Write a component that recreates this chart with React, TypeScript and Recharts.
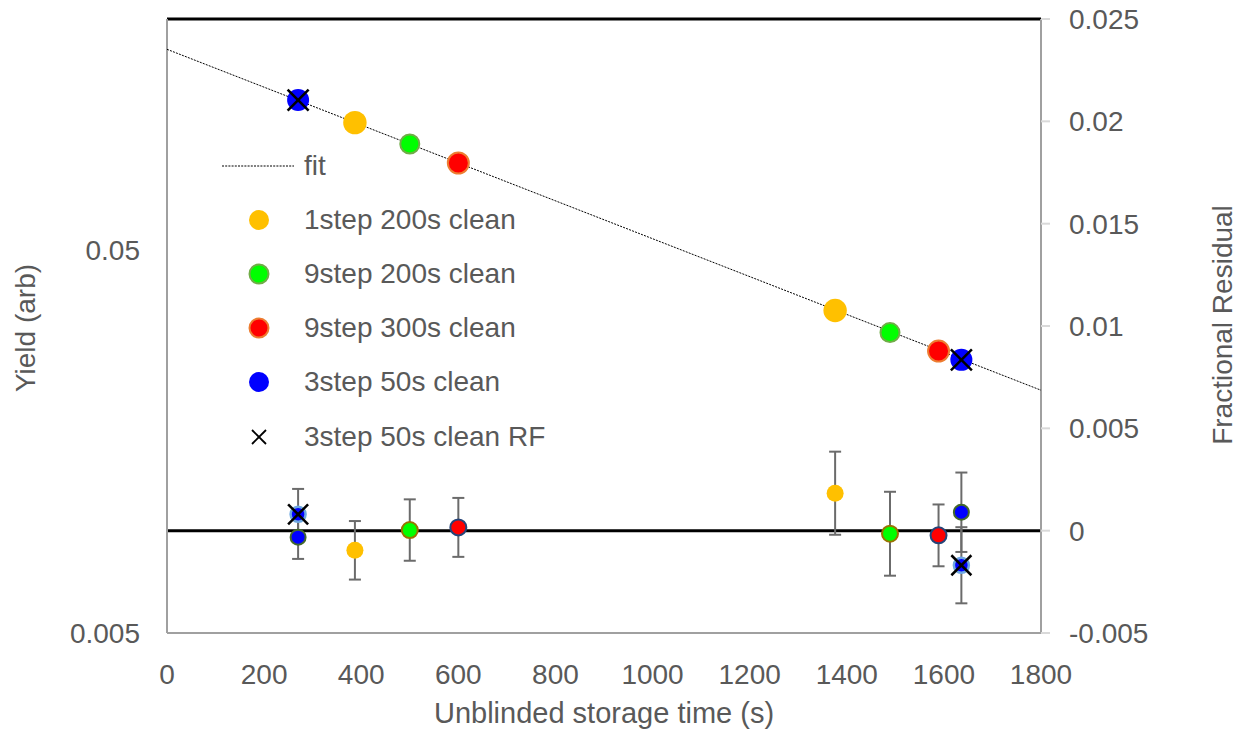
import React from 'react';
import { ComposedChart, Scatter, XAxis, YAxis, ErrorBar, ReferenceLine, Legend, Label } from 'recharts';

// ---- data ----
const fitTime = [0, 1800];
const fitYield = [0.1667, 0.0215];

const time1step200 = [387, 1376];
const yield1step200 = [0.1073, 0.0347];
const resid1step200 = [-0.00096, 0.00183];
const err1step200 = [0.00143, 0.00203];

const time9step200 = [500, 1489];
const yield9step200 = [0.0944, 0.0304];
const resid9step200 = [0.00003, -0.00015];
const err9step200 = [0.0015, 0.00205];

const time9step300 = [600, 1589];
const yield9step300 = [0.0842, 0.0272];
const resid9step300 = [0.00016, -0.00023];
const err9step300 = [0.00144, 0.00151];

const time3step50 = [270, 1636];
const yield3step50 = [0.1229, 0.0258];
const resid3step50 = [-0.00032, 0.0009];
const err3step50 = [0.00106, 0.00194];

const time3step50RF = [270, 1636];
const yield3step50RF = [0.1229, 0.0258];
const resid3step50RF = [0.0008, -0.00169];
const err3step50RF = [0.00124, 0.00186];

const xTicks = [0, 200, 400, 600, 800, 1000, 1200, 1400, 1600, 1800];
const leftTicks = [0.005, 0.05];
const rightTicks = [-0.005, 0, 0.005, 0.01, 0.015, 0.02, 0.025];

const seriesNames = ['fit', '1step 200s clean', '9step 200s clean', '9step 300s clean', '3step 50s clean', '3step 50s clean RF'];

const pts = (t: number[], v: number[], e?: number[]) =>
  t.map((x, i) => ({ x, y: v[i], err: e ? e[i] : undefined }));

const FONT = '"Liberation Sans", Arial, sans-serif';
const TXT = '#595959';

const dot = (r: number, fill: string, stroke?: string, sw = 0) => (p: any) =>
  p.cx == null ? <g /> : (
    <circle cx={p.cx} cy={p.cy} r={r} fill={fill} stroke={stroke || 'none'} strokeWidth={sw} />
  );

const cross = (h: number, sw: number, under?: { r: number; fill: string; stroke: string; sw: number }) => (p: any) =>
  p.cx == null ? <g /> : (
    <g>
      {under && <circle cx={p.cx} cy={p.cy} r={under.r} fill={under.fill} stroke={under.stroke} strokeWidth={under.sw} />}
      <line x1={p.cx - h} y1={p.cy - h} x2={p.cx + h} y2={p.cy + h} stroke="#000" strokeWidth={sw} />
      <line x1={p.cx - h} y1={p.cy + h} x2={p.cx + h} y2={p.cy - h} stroke="#000" strokeWidth={sw} />
    </g>
  );

const none = () => <g />;

const legendMarks = [
  (<line x1={0} y1={15} x2={72} y2={15} stroke="#000" strokeWidth={1} strokeDasharray="2 1.2" />),
  (<circle cx={37} cy={15} r={10} fill="#FFC000" />),
  (<circle cx={37} cy={15} r={9.5} fill="#00FF00" stroke="#70AD47" strokeWidth={2} />),
  (<circle cx={37} cy={15} r={9.5} fill="#FF0000" stroke="#ED7D31" strokeWidth={2} />),
  (<circle cx={37} cy={15} r={10} fill="#0000FF" />),
  (<g><line x1={30} y1={8} x2={44} y2={22} stroke="#000" strokeWidth={1.8} /><line x1={30} y1={22} x2={44} y2={8} stroke="#000" strokeWidth={1.8} /></g>),
];

const renderLegend = () => (
  <div style={{ fontFamily: FONT, fontSize: 28, color: TXT }}>
    {seriesNames.map((n, i) => (
      <div key={n} style={{ height: 54.1, display: 'flex', alignItems: 'center' }}>
        <svg width={74} height={30} style={{ display: 'block' }}>{legendMarks[i]}</svg>
        <span style={{ marginLeft: 8, whiteSpace: 'nowrap' }}>{n}</span>
      </div>
    ))}
  </div>
);

const tickStyle = { fill: TXT, fontSize: 28, fontFamily: FONT };
const axisLineStyle = { stroke: '#a0a0a0', strokeWidth: 2 };

export default function App() {
  return (
    <div style={{ width: 1244, height: 740, margin: -8 }}>
      <ComposedChart width={1244} height={740} margin={{ top: 19, right: 0, bottom: 0, left: 0 }}>
        <XAxis
          dataKey="x"
          type="number"
          domain={[0, 1800]}
          ticks={xTicks}
          interval={0}
          allowDataOverflow
          tickLine={false}
          tickSize={0}
          tickMargin={31}
          axisLine={axisLineStyle}
          tick={tickStyle}
          height={107}
        >
          <Label
            content={() => (
              <text x={604} y={723} textAnchor="middle" fill={TXT} fontSize={29} fontFamily={FONT}>
                Unblinded storage time (s)
              </text>
            )}
          />
        </XAxis>
        <YAxis
          yAxisId="left"
          orientation="left"
          dataKey="y"
          type="number"
          scale="log"
          domain={[0.005, 0.2]}
          allowDataOverflow
          ticks={leftTicks}
          interval={0}
          tickLine={false}
          tickSize={0}
          tickMargin={27}
          axisLine={axisLineStyle}
          tick={tickStyle}
          width={167}
        >
          <Label
            content={() => (
              <text x={25} y={328} transform="rotate(-90 25 328)" textAnchor="middle" dominantBaseline="central" fill={TXT} fontSize={28} fontFamily={FONT}>
                Yield (arb)
              </text>
            )}
          />
        </YAxis>
        <YAxis
          yAxisId="right"
          orientation="right"
          dataKey="y"
          type="number"
          domain={[-0.005, 0.025]}
          allowDataOverflow
          ticks={rightTicks}
          interval={0}
          tickLine={{ stroke: '#d9d9d9', strokeWidth: 2 }}
          tickSize={9}
          tickMargin={19}
          axisLine={axisLineStyle}
          tick={tickStyle}
          width={203}
        >
          <Label
            content={() => (
              <text x={1222} y={325} transform="rotate(-90 1222 325)" textAnchor="middle" dominantBaseline="central" fill={TXT} fontSize={28} fontFamily={FONT}>
                Fractional Residual
              </text>
            )}
          />
        </YAxis>

        <ReferenceLine yAxisId="right" y={0.025} stroke="#000" strokeWidth={3} />
        <ReferenceLine yAxisId="right" y={0} stroke="#000" strokeWidth={3} />

        <Legend layout="vertical" align="center" verticalAlign="middle" content={renderLegend}
          wrapperStyle={{ position: 'absolute', left: 222, top: 139, width: 'auto', height: 'auto' }} />

        {/* fit line */}
        <Scatter name="fit" yAxisId="left" data={pts(fitTime, fitYield)} fill="#000"
          line={{ stroke: '#000', strokeWidth: 1, strokeDasharray: '2 1.2' }} shape={none} isAnimationActive={false} legendType="none" />

        {/* top: yields */}
        <Scatter name="1step 200s clean" yAxisId="left" data={pts(time1step200, yield1step200)} shape={dot(11.7, '#FFC000')} isAnimationActive={false} />
        <Scatter name="9step 200s clean" yAxisId="left" data={pts(time9step200, yield9step200)} shape={dot(9.5, '#00FF00', '#70AD47', 2)} isAnimationActive={false} />
        <Scatter name="9step 300s clean" yAxisId="left" data={pts(time9step300, yield9step300)} shape={dot(10.5, '#FF0000', '#ED7D31', 2)} isAnimationActive={false} />
        <Scatter name="3step 50s clean" yAxisId="left" data={pts(time3step50, yield3step50)} shape={dot(11, '#0000FF')} isAnimationActive={false} />
        <Scatter name="3step 50s clean RF" yAxisId="left" data={pts(time3step50RF, yield3step50RF)} shape={cross(10.5, 2.5)} isAnimationActive={false} />

        {/* bottom: residuals */}
        <Scatter name="1step resid" yAxisId="right" data={pts(time1step200, resid1step200, err1step200)} shape={dot(8.5, '#FFC000')} isAnimationActive={false} legendType="none">
          <ErrorBar dataKey="err" direction="y" width={6} stroke="#6b6b6b" strokeWidth={2} />
        </Scatter>
        <Scatter name="9step200 resid" yAxisId="right" data={pts(time9step200, resid9step200, err9step200)} shape={dot(8, '#00FF00', '#997300', 2)} isAnimationActive={false} legendType="none">
          <ErrorBar dataKey="err" direction="y" width={6} stroke="#6b6b6b" strokeWidth={2} />
        </Scatter>
        <Scatter name="9step300 resid" yAxisId="right" data={pts(time9step300, resid9step300, err9step300)} shape={dot(8, '#FF0000', '#264478', 2)} isAnimationActive={false} legendType="none">
          <ErrorBar dataKey="err" direction="y" width={6} stroke="#6b6b6b" strokeWidth={2} />
        </Scatter>
        <Scatter name="3step resid" yAxisId="right" data={pts(time3step50, resid3step50, err3step50)} shape={dot(7.5, '#0000FF', '#43682B', 2)} isAnimationActive={false} legendType="none">
          <ErrorBar dataKey="err" direction="y" width={6} stroke="#6b6b6b" strokeWidth={2} />
        </Scatter>
        <Scatter name="3step RF resid" yAxisId="right" data={pts(time3step50RF, resid3step50RF, err3step50RF)}
          shape={cross(10, 2.5, { r: 7.5, fill: '#0000FF', stroke: '#6FA8E0', sw: 2.5 })} isAnimationActive={false} legendType="none">
          <ErrorBar dataKey="err" direction="y" width={6} stroke="#6b6b6b" strokeWidth={2} />
        </Scatter>
      </ComposedChart>
    </div>
  );
}
